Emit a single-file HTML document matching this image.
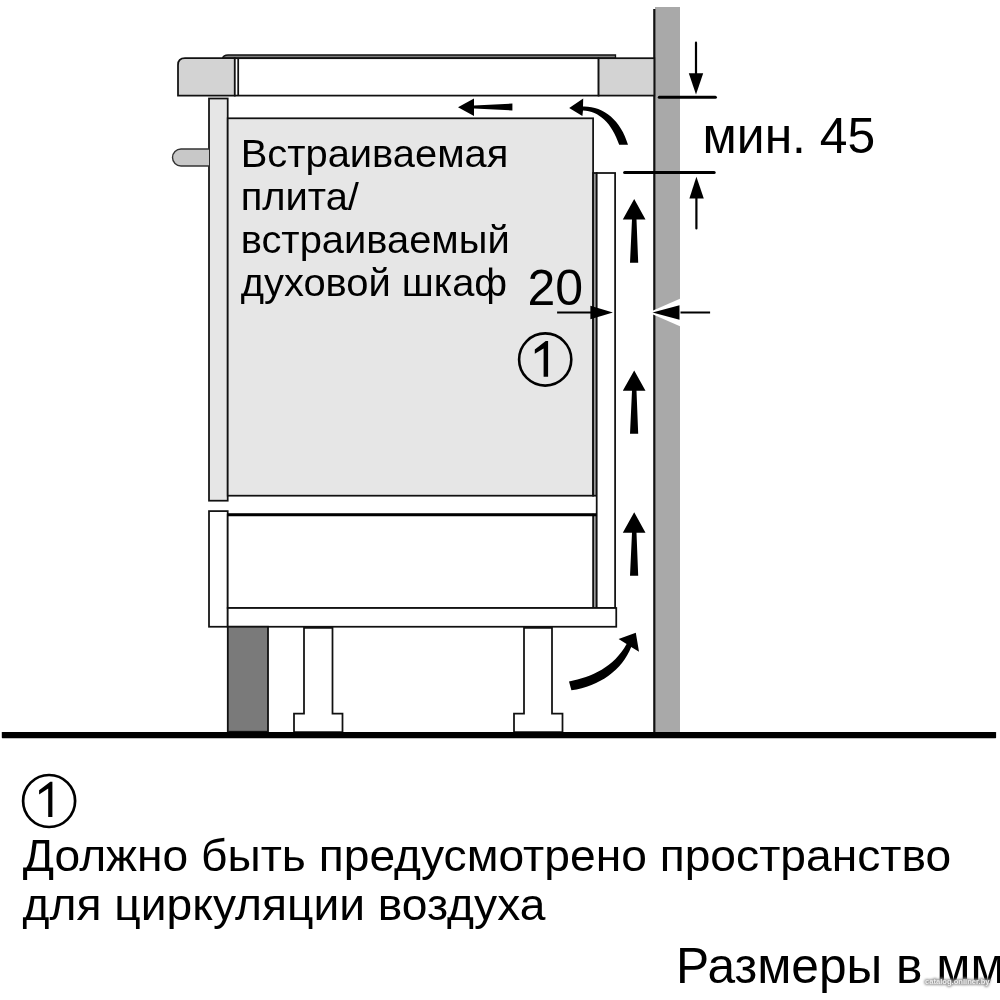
<!DOCTYPE html>
<html><head><meta charset="utf-8">
<style>
html,body{margin:0;padding:0;background:#fff;width:1000px;height:1000px;overflow:hidden}
svg{display:block;will-change:transform}
text{font-family:"Liberation Sans",sans-serif;fill:#000}
</style></head>
<body>
<svg width="1000" height="1000" viewBox="0 0 1000 1000">
<defs>
<filter id="bl" x="-20%" y="-50%" width="140%" height="200%"><feGaussianBlur stdDeviation="1.2"/></filter>
</defs>
<rect x="0" y="0" width="1000" height="1000" fill="#fff"/>
<!-- wall -->
<rect x="655" y="7" width="25" height="726" fill="#a9a9a9"/>
<line x1="654.3" y1="9" x2="654.3" y2="733" stroke="#111" stroke-width="2.2"/>

<g stroke="#111" stroke-width="1.75">
<!-- hob top strip -->
<path d="M222.5,58.2 Q223.5,55 228,55 H615.5 V58.2 Z" fill="#808080" stroke-width="1.3"/>
<!-- countertop left -->
<path d="M178,95.6 V65 Q178,58.2 185,58.2 H234.8 V95.6 Z" fill="#d3d3d3"/>
<!-- hob body -->
<rect x="234.8" y="58.2" width="363.8" height="37.4" fill="#fff"/>
<line x1="238.2" y1="58.2" x2="238.2" y2="95.6"/>
<!-- countertop right -->
<rect x="598.6" y="58.2" width="55.7" height="37.4" fill="#d3d3d3"/>
<!-- left upper panel -->
<rect x="209" y="98.5" width="18.7" height="402.2" fill="#e6e6e6"/>
<!-- handle -->
<path d="M209,149 H181 A8.5,8.5 0 0 0 181,166 H209" fill="#c8c8c8" stroke="#333" stroke-width="1.4"/>
<!-- oven -->
<rect x="227.7" y="118.3" width="365.4" height="377.4" fill="#e6e6e6"/>
<!-- gray strip -->
<rect x="593.1" y="173" width="3.6" height="322.7" fill="#999"/>
<rect x="593.1" y="514.7" width="3.6" height="93.3" fill="#999"/>
<!-- side panel -->
<rect x="596.7" y="173" width="18.4" height="435" fill="#fff"/>
<!-- lower left panel -->
<rect x="209" y="511.1" width="18.7" height="115.65" fill="#fff"/>
<!-- drawer -->
<rect x="227.7" y="514.7" width="365.4" height="93.3" fill="#fff"/>
<!-- base board -->
<rect x="227.7" y="608" width="388.55" height="18.75" fill="#fff"/>
<!-- plinth -->
<rect x="227.8" y="626.75" width="40.2" height="105" fill="#7a7a7a" stroke-width="1.8"/>
<!-- legs -->
<path d="M304,627.8 V713.5 H294 V732 H342.5 V713.5 H332.5 V627.8 Z" fill="#fff"/>
<path d="M524,627.8 V713.5 H514 V732 H562.5 V713.5 H552 V627.8 Z" fill="#fff"/>
</g>
<line x1="227.7" y1="514.7" x2="596.7" y2="514.7" stroke="#000" stroke-width="3"/>
<!-- ground -->
<rect x="1.8" y="731.9" width="994.3" height="6.3" rx="0.6" fill="#000"/>

<!-- arrows -->
<g fill="#000">
<!-- top left arrow -->
<path d="M458,107.2 L474,98.4 L474,105.6 L512.4,103.6 L512.4,110.4 L474,108.6 L474,116 Z"/>
<!-- curved top arrow -->
<path d="M569.2,108 L583.2,98.4 L583,106.4 C603,105.8 621,120 628,144.8 L619.2,144.8 C612,123 599,111 583,110.4 L582.4,116 Z"/>
<!-- up arrows -->
<path d="M634.2,199 L645.5,219.5 L636.5,219.5 L638.2,262.8 L630,262.8 L632,219.5 L622.8,219.5 Z"/>
<path d="M634.2,370.5 L645.5,390.8 L636.5,390.8 L638.2,433.8 L630,433.8 L632,390.8 L622.8,390.8 Z"/>
<path d="M634.2,512.2 L645.5,532.8 L636.5,532.8 L638.2,575.8 L630,575.8 L632,532.8 L622.8,532.8 Z"/>
<!-- bottom curved arrow -->
<path d="M571.4,690.2 L569,681.4 C592,677 614,667 626.6,644 L618.6,639 L635.8,632.8 L639,651.8 L631.2,646.9 C622,670 600,686 571.4,690.2 Z"/>
</g>

<!-- dimension min 45 -->
<g stroke="#000" stroke-linecap="round">
<line x1="659.3" y1="97.2" x2="715.4" y2="97.2" stroke-width="3"/>
<line x1="624.6" y1="172.6" x2="714.2" y2="172.6" stroke-width="3"/>
<line x1="696" y1="42.7" x2="696" y2="74" stroke-width="2.2"/>
<line x1="696.4" y1="198" x2="696.4" y2="228.5" stroke-width="2.2"/>
<!-- 20 dims -->
<line x1="557.1" y1="312.5" x2="592" y2="312.5" stroke-width="2" stroke-linecap="butt"/>
<line x1="678" y1="312.5" x2="710.1" y2="312.5" stroke-width="2" stroke-linecap="butt"/>
</g>
<g fill="#000">
<path d="M688.8,73.2 L703.2,73.2 L696,94.4 Z"/>
<path d="M696.4,176.8 L703.8,198.4 L689.4,198.4 Z"/>
<path d="M612.9,312.5 L590.4,305.8 L590.4,319.2 Z"/>
<path d="M648.5,312.5 L680.5,298.5 L680.5,326.5 Z" fill="#fff"/>
<path d="M652.5,312.5 L679.5,305.3 L679.5,319.7 Z"/>
</g>

<!-- texts -->
<g font-size="38.5">
<text transform="translate(240.7,167.3) scale(1.036,1)">Встраиваемая</text>
<text transform="translate(240.7,210.2) scale(1.036,1)">плита/</text>
<text transform="translate(240.7,253.0) scale(1.036,1)">встраиваемый</text>
<text transform="translate(240.7,296.1) scale(1.036,1)">духовой шкаф</text>
</g>
<text x="527.5" y="304.6" font-size="50">20</text>
<text transform="translate(702.6,153.4) scale(1.01,1)" font-size="49.3">мин. 45</text>

<circle cx="545.2" cy="359.5" r="26.1" fill="none" stroke="#000" stroke-width="2.6"/>
<path d="M543.6,376.8 V348.4 L534.8,353.7 V349.6 L545.7,341.1 H548.1 V376.8 Z" fill="#000"/>

<circle cx="49.1" cy="801" r="26" fill="none" stroke="#000" stroke-width="2.7"/>
<path d="M48.2,817.1 V788.4 L39.1,794.4 V790.3 L50.3,781.8 H52.4 V817.1 Z" fill="#000"/>

<text transform="translate(22.66,870.5) scale(1.0222,1)" font-size="45.2">Должно быть предусмотрено пространство</text>
<text transform="translate(22.55,919.5) scale(1.0217,1)" font-size="45.2">для циркуляции воздуха</text>
<text transform="translate(675.9,982.7) scale(1.012,1)" font-size="49.1">Размеры в мм</text>

<!-- watermark -->
<text x="925" y="984" font-size="7.6" font-weight="bold" stroke="#999" stroke-width="2.2" filter="url(#bl)" style="fill:#999">catalog.onliner.by</text>
<text x="925" y="984" font-size="7.6" font-weight="bold" style="fill:#eee">catalog.onliner.by</text>
</svg>
</body></html>
